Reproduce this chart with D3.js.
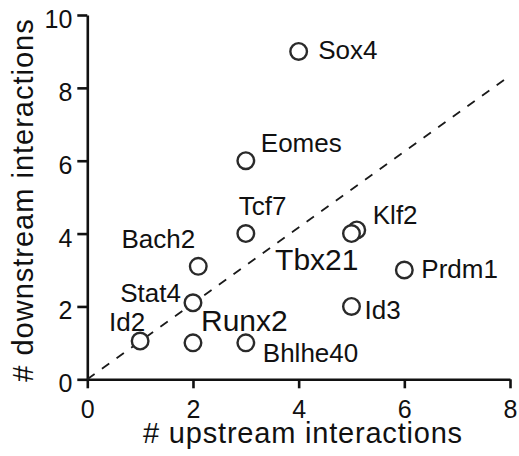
<!DOCTYPE html>
<html>
<head>
<meta charset="utf-8">
<script src="https://cdn.jsdelivr.net/npm/d3@7"></script>
<style>
  html, body { margin: 0; padding: 0; background: #fff; }
  svg { display: block; font-family: Arial, "Liberation Sans", Helvetica, sans-serif; }
</style>
</head>
<body>
<svg id="chart" width="519" height="456"></svg>
<script>
// Regulator genes with their counts of upstream / downstream interactions
const genes      = ["Sox4", "Eomes", "Tcf7", "Bach2", "Stat4", "Id2", "Runx2", "Bhlhe40", "Klf2", "Tbx21", "Prdm1", "Id3"];
const upstream   = [4,      3,       3,      2.1,     2,       1,     2,       3,         5.1,    5,       6,       5];
const downstream = [9,      6,       4,      3.1,     2.1,     1.05,  1,       1,         4.1,    4,       3,       2];

// Reference diagonal (equal up/down interactions)
const diagonal = [[0, 0], [7.92, 8.25]];

const xTicks = [0, 2, 4, 6, 8];
const yTicks = [0, 2, 4, 6, 8, 10];
const xTitle = "# upstream interactions";
const yTitle = "# downstream interactions";

// Label placement relative to each point: [anchor, dx, dy, fontSize]
const labelLayout = {
  Sox4:    ["start", 19.5,  7.5, 26],
  Eomes:   ["start", 15,   -9,   26],
  Tcf7:    ["start", -7,   -19,  26],
  Bach2:   ["end",   -3,   -18,  26],
  Stat4:   ["end",   -12,  -1,   26],
  Id2:     ["end",    5,   -10,  26],
  Runx2:   ["start",  8,   -12,  30],
  Bhlhe40: ["start", 17,    19,  26],
  Klf2:    ["start", 16,   -6,   26],
  Tbx21:   ["end",    7,    36,  30],
  Prdm1:   ["start", 17,    8,   26],
  Id3:     ["start", 13,    13,  26]
};

const svg = d3.select("#chart");
const ink = "#111";

const x = d3.scaleLinear().domain([0, 8]).range([87.3, 510]);
const y = d3.scaleLinear().domain([0, 10]).range([379.3, 15]);

// Axes
const xAxis = svg.append("g")
  .attr("transform", `translate(0,${y(0)})`)
  .call(d3.axisBottom(x).tickValues(xTicks).tickFormat(d3.format("d"))
        .tickSize(9).tickSizeOuter(0).tickPadding(12));
const yAxis = svg.append("g")
  .attr("transform", `translate(${x(0)},0)`)
  .call(d3.axisLeft(y).tickValues(yTicks).tickFormat(d3.format("d"))
        .tickSize(10).tickSizeOuter(0).tickPadding(5));

[xAxis, yAxis].forEach(g => {
  g.select(".domain").attr("stroke", ink).attr("stroke-width", 2.6);
  g.selectAll(".tick line").attr("stroke", ink).attr("stroke-width", 2.6);
  g.selectAll(".tick text").attr("fill", ink).style("font-size", "25px")
    .style("font-family", "Arial, 'Liberation Sans', sans-serif");
});
yAxis.selectAll(".tick text").attr("dy", "0.5em");

// Diagonal dashed line
svg.append("path")
  .datum(diagonal)
  .attr("d", d3.line().x(d => x(d[0])).y(d => y(d[1])))
  .attr("fill", "none")
  .attr("stroke", "#1a1a1a")
  .attr("stroke-width", 1.8)
  .attr("stroke-dasharray", "9,9");

// Points
const points = genes.map((g, i) => ({ gene: g, up: upstream[i], down: downstream[i] }));

svg.append("g").selectAll("circle")
  .data(points)
  .join("circle")
  .attr("cx", d => x(d.up))
  .attr("cy", d => y(d.down))
  .attr("r", 8.3)
  .attr("fill", "#fff")
  .attr("stroke", "#2a2a2a")
  .attr("stroke-width", 2.4);

// Gene labels
svg.append("g").selectAll("text")
  .data(points)
  .join("text")
  .attr("x", d => x(d.up) + labelLayout[d.gene][1])
  .attr("y", d => y(d.down) + labelLayout[d.gene][2])
  .attr("text-anchor", d => labelLayout[d.gene][0])
  .style("font-size", d => labelLayout[d.gene][3] + "px")
  .attr("fill", ink)
  .text(d => d.gene);

// Axis titles
svg.append("text")
  .attr("x", 303)
  .attr("y", 443)
  .attr("text-anchor", "middle")
  .style("font-size", "29px")
  .style("letter-spacing", "0.8px")
  .attr("fill", ink)
  .text(xTitle);

svg.append("text")
  .attr("transform", "translate(33,200) rotate(-90)")
  .attr("text-anchor", "middle")
  .style("font-size", "29px")
  .style("letter-spacing", "1px")
  .attr("fill", ink)
  .text(yTitle);
</script>
</body>
</html>
